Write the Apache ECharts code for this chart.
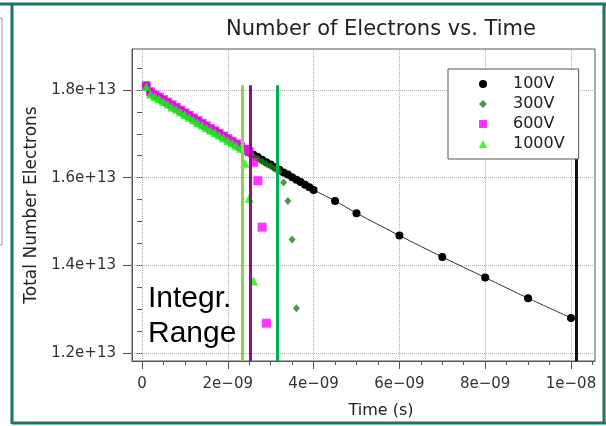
<!DOCTYPE html>
<html><head><meta charset="utf-8">
<script src="https://cdn.jsdelivr.net/npm/echarts@6/dist/echarts.min.js"></script>
<style>html,body{margin:0;padding:0;background:#fff}#c{width:606px;height:426px}</style>
</head><body><div id="c"></div>
<script>
// time in ns (1e-9 s), electrons in units of 1e13
const times100 = [0.1,0.2,0.3,0.4,0.5,0.6,0.7,0.8,0.9,1.0,1.1,1.2,1.3,1.4,1.5,1.6,1.7,1.8,1.9,2.0,2.1,2.2,2.3,2.4,2.5,2.6,2.7,2.8,2.9,3.0,3.1,3.2,3.3,3.4,3.5,3.6,3.7,3.8,3.9,4.0,4.5,5,6,7,8,9,10];
const vals100  = [1.809,1.795,1.788,1.783,1.777,1.771,1.765,1.759,1.753,1.747,1.741,1.735,1.729,1.723,1.717,1.711,1.706,1.700,1.694,1.688,1.682,1.676,1.670,1.664,1.658,1.652,1.647,1.641,1.635,1.630,1.624,1.618,1.612,1.607,1.601,1.595,1.590,1.584,1.578,1.572,1.547,1.519,1.468,1.419,1.372,1.325,1.280];
const times300 = [0.1,0.2,0.3,0.4,0.5,0.6,0.7,0.8,0.9,1.0,1.1,1.2,1.3,1.4,1.5,1.6,1.7,1.8,1.9,2.0,2.1,2.2,2.3,2.4,2.5,2.6,2.7,2.8,2.9,3.0,3.1,3.2,3.3,3.4,3.5,3.6];
const vals300  = [1.806,1.791,1.784,1.779,1.773,1.767,1.761,1.755,1.749,1.743,1.737,1.731,1.725,1.719,1.713,1.707,1.702,1.696,1.690,1.684,1.678,1.672,1.666,1.660,1.654,1.648,1.643,1.637,1.631,1.626,1.620,1.614,1.589,1.547,1.459,1.302];
const times600 = [0.1,0.2,0.3,0.4,0.5,0.6,0.7,0.8,0.9,1.0,1.1,1.2,1.3,1.4,1.5,1.6,1.7,1.8,1.9,2.0,2.1,2.2,2.3,2.4,2.5,2.6,2.7,2.8,2.9];
const vals600  = [1.810,1.796,1.789,1.784,1.778,1.772,1.766,1.760,1.754,1.748,1.742,1.736,1.730,1.724,1.718,1.712,1.707,1.701,1.695,1.689,1.683,1.677,1.671,1.665,1.659,1.635,1.593,1.487,1.268];
const times1000 = [0.1,0.2,0.3,0.4,0.5,0.6,0.7,0.8,0.9,1.0,1.1,1.2,1.3,1.4,1.5,1.6,1.7,1.8,1.9,2.0,2.1,2.2,2.3,2.4,2.5,2.6];
const vals1000  = [1.808,1.791,1.785,1.780,1.774,1.768,1.762,1.756,1.750,1.744,1.738,1.732,1.726,1.720,1.714,1.708,1.703,1.697,1.691,1.685,1.679,1.673,1.667,1.633,1.553,1.364];
const seriesNames = ['100V','300V','600V','1000V'];
const rangeTimes = [2.338, 2.534, 3.163, 10.117];
const rangeColors = ['#92d050', '#9c0c80', '#00b050', '#111111'];
const rangeTop = 1.811;
const xMajor = [0,2,4,6,8,10];
const xMinor = [0,0.5,1,1.5,2,2.5,3,3.5,4,4.5,5,5.5,6,6.5,7,7.5,8,8.5,9,9.5,10,10.5];
const yMajor = [1.2,1.4,1.6,1.8];
const yMinor = [1.2,1.25,1.3,1.35,1.4,1.45,1.5,1.55,1.6,1.65,1.7,1.75,1.8,1.85];
const xMin = -0.233, xMax = 10.56, yMin = 1.1817, yMax = 1.8935;

const FONT = 'DejaVu Sans';
function fmtTime(v){
  if (Math.abs(v) < 1e-9) return '0';
  let m = v, e = -9;
  while (m >= 10) { m /= 10; e++; }
  return (Math.round(m*100)/100) + 'e\u2212' + String(-e).padStart(2,'0');
}
function fmtY(v){ return v.toFixed(1) + 'e+13'; }
const pairs = (t, v) => t.map((x, i) => [x, v[i]]);

const chart = echarts.init(document.getElementById('c'), null, {renderer:'canvas'});
const axisColor = '#555';
chart.setOption({
  animation: false,
  backgroundColor: '#fff',
  grid: {left:132, top:49, width:463, height:312, show:true, borderColor:axisColor, borderWidth:1, backgroundColor:'#fff'},
  xAxis: [
    {type:'value', min:xMin, max:xMax, position:'bottom',
     axisLine:{show:true, onZero:false, lineStyle:{color:axisColor, width:1}},
     axisTick:{show:true, inside:false, length:8, customValues:xMajor, lineStyle:{color:axisColor}},
     axisLabel:{customValues:xMajor, formatter:fmtTime, margin:16, color:'#333', fontSize:15, fontFamily:FONT},
     splitLine:{show:false},
     name:'Time (s)', nameLocation:'middle', nameGap:42,
     nameTextStyle:{color:'#222', fontSize:16, fontFamily:FONT, padding:[0,0,0,35]}},
    {type:'value', min:xMin, max:xMax, position:'bottom',
     axisLine:{show:false}, axisTick:{show:true, inside:false, length:4, customValues:xMinor, lineStyle:{color:axisColor}},
     axisLabel:{show:false}, splitLine:{show:false}}
  ],
  yAxis: [
    {type:'value', min:yMin, max:yMax, position:'left',
     axisLine:{show:true, onZero:false, lineStyle:{color:axisColor, width:1}},
     axisTick:{show:true, inside:false, length:9, customValues:yMajor, lineStyle:{color:axisColor}},
     axisLabel:{customValues:yMajor, formatter:fmtY, margin:16, color:'#333', fontSize:15, fontFamily:FONT},
     splitLine:{show:false},
     name:'Total Number Electrons', nameLocation:'middle', nameGap:77,
     nameTextStyle:{color:'#222', fontSize:17, fontFamily:FONT}},
    {type:'value', min:yMin, max:yMax, position:'left',
     axisLine:{show:false}, axisTick:{show:true, inside:false, length:5, customValues:yMinor, lineStyle:{color:axisColor}},
     axisLabel:{show:false}, splitLine:{show:false}}
  ],
  legend: {
    orient:'vertical', left:448, top:69, z:6,
    data:[{name:'100V',icon:'circle'},{name:'300V',icon:'diamond'},{name:'600V',icon:'rect'},{name:'1000V',icon:'triangle'}],
    itemWidth:8, itemHeight:8, itemGap:4,
    padding:[7,14,7,31],
    backgroundColor:'#fff', borderColor:'#555', borderWidth:1, borderRadius:0,
    selectedMode:false,
    textStyle:{fontFamily:FONT, fontSize:16, color:'#222', lineHeight:15, padding:[0,0,0,21]}
  },
  graphic: [
    {type:'line', z:10, shape:{x1:0, y1:4, x2:606, y2:4}, style:{stroke:'#17775f', lineWidth:3}},
    {type:'line', z:10, shape:{x1:12, y1:4, x2:12, y2:424}, style:{stroke:'#17775f', lineWidth:3}},
    {type:'line', z:10, shape:{x1:12, y1:423, x2:606, y2:423}, style:{stroke:'#17775f', lineWidth:3}},
    {type:'line', z:10, shape:{x1:604, y1:4, x2:604, y2:424}, style:{stroke:'#17775f', lineWidth:3}},
    {type:'rect', z:10, shape:{x:-6, y:18, width:8, height:227}, style:{fill:'none', stroke:'#999', lineWidth:1}},
    {type:'text', z:10, style:{text:'Number of Electrons vs. Time', x:381, y:30, textAlign:'center', textVerticalAlign:'middle', font:'21px "DejaVu Sans"', fill:'#222'}},
    {type:'text', z:10, style:{text:'Integr.', x:148, y:299, textAlign:'left', textVerticalAlign:'middle', font:'30px "Liberation Sans"', fill:'#000'}},
    {type:'text', z:10, style:{text:'Range', x:148, y:334, textAlign:'left', textVerticalAlign:'middle', font:'30px "Liberation Sans"', fill:'#000'}}
  ],
  series: [
    {name:'gridlines', type:'scatter', data:[], z:1, silent:true,
     markLine:{z:1, silent:true, symbol:['none','none'], label:{show:false}, animation:false,
       lineStyle:{color:'#b0b0b0', type:'dotted', width:1},
       data: xMajor.map(v => ({xAxis:v})).concat(yMajor.map(v => ({yAxis:v})))}},
    {name:seriesNames[0], type:'line', data:pairs(times100, vals100), smooth:0.3, z:2,
     symbol:'circle', symbolSize:8, showAllSymbol:true,
     itemStyle:{color:'#000'}, lineStyle:{color:'#333', width:1}},
    {name:seriesNames[1], type:'scatter', z:3, data:pairs(times300, vals300), symbol:'diamond', symbolSize:[7,8], itemStyle:{color:'#1e7e1e'}},
    {name:seriesNames[2], type:'scatter', z:3, data:pairs(times600, vals600), symbol:'rect', symbolSize:9, itemStyle:{color:'#ff00ff'}},
    {name:seriesNames[3], type:'scatter', z:3, data:pairs(times1000, vals1000), symbol:'triangle', symbolSize:9, itemStyle:{color:'#00ff00'}},
    {name:'range', type:'scatter', data:[], z:4, silent:true,
     markLine:{z:4, silent:true, symbol:['none','none'], label:{show:false}, animation:false,
       data: rangeTimes.map((t, i) => [
         {coord:[t, rangeTop], lineStyle:{color:rangeColors[i], width:3, type:'solid'}},
         {coord:[t, yMin]}
       ])}}
  ]
});
</script>
</body></html>
